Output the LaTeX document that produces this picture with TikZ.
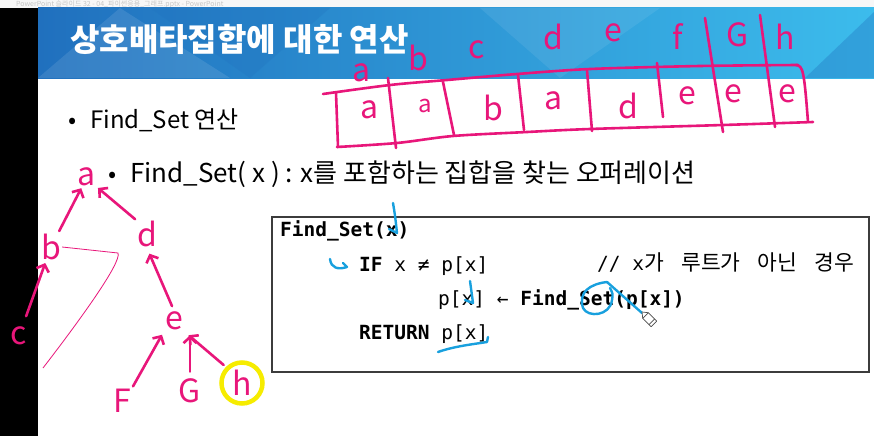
\documentclass[tikz,border=0pt]{standalone}
\usepackage{fontspec}
\setmainfont{Noto Sans CJK KR}
\newfontfamily\codefont{DejaVu Sans Mono}
\newfontfamily\cmtfont[WordSpace=3.6]{Noto Sans CJK KR}
\usetikzlibrary{arrows.meta, positioning, calc}
\definecolor{penpink}{RGB}{232,22,122}
\definecolor{penblue}{RGB}{24,160,222}
\definecolor{penyellow}{RGB}{246,236,0}
\definecolor{bardark}{RGB}{32,112,190}
\definecolor{barlight}{RGB}{60,188,236}
\definecolor{codeframe}{RGB}{60,60,60}
\tikzset{
  slidetitle/.style={anchor=base west, inner sep=0pt, text=white,
    font=\fontsize{32}{36}\selectfont\bfseries},
  bullet/.style={anchor=base west, inner sep=0pt,
    font=\fontsize{24}{28}\selectfont},
  codebox/.style={rectangle, draw=codeframe, line width=1.4pt,
    minimum width=597pt, minimum height=155pt, inner sep=0pt},
  codeline/.style={anchor=base west, inner sep=0pt,
    font=\codefont\fontsize{19.5}{22}\selectfont},
  hand/.style={text=penpink, inner sep=1pt, font=\fontsize{32}{32}\selectfont},
  penline/.style={draw=penpink, line width=2.6pt, line cap=round, line join=round},
  penarrow/.style={penline, -{Straight Barb[length=6pt, width=13pt]}},
  thinpen/.style={draw=penpink, line width=0.8pt},
  bluepen/.style={draw=penblue, line width=2.4pt, line cap=round, line join=round},
  hilite/.style={circle, draw=penyellow, line width=4.5pt, minimum size=41pt,
    inner sep=0pt, text=penpink, font=\fontsize{32}{32}\selectfont},
  wintext/.style={anchor=base west, inner sep=0pt, text=gray!45,
    font=\fontsize{7}{7}\selectfont},
}

\begin{document}
\begin{tikzpicture}[x=1pt, y=-1pt]
  \useasboundingbox (0,0) rectangle (874,436);

  %% window strip, black margin, title bar
  \fill[white] (0,0) rectangle (874,436);
  \fill[gray!6] (0,0) rectangle (874,8);
  \node[wintext] (wintitle) at (16,7) {PowerPoint 슬라이드 32 - 04\_파이썬응용\_그래프.pptx - PowerPoint};
  \fill[black] (0,8) rectangle (38,436);
  \shade[left color=bardark, right color=barlight] (38,8) rectangle (874,78);
  \fill[white, opacity=0.10] (38,78) -- (120,8) -- (230,78) -- cycle;
  \fill[bardark, opacity=0.25] (150,8) -- (330,8) -- (250,78) -- cycle;
  \fill[white, opacity=0.08] (480,8) -- (560,78) -- (660,8) -- cycle;
  \fill[bardark, opacity=0.35] (874,12) -- (874,78) -- (805,78) -- cycle;
  \node[slidetitle] (title) at (70,52) {상호배타집합에 대한 연산};

  %% bullets
  \node[bullet] (dot1) at (68,128) {•};
  \node[bullet] (op) at (90,128) {Find\_Set 연산};
  \node[bullet] (dot2) at (108,182) {•};
  \node[bullet, font=\fontsize{26}{30}\selectfont] (opdef) at (130,182)
    {Find\_Set( x ) : x를 포함하는 집합을 찾는 오퍼레이션};

  %% pseudo code
  \node[codebox] (code) at (570.5,294.5) {};
  \node[codeline] (head) at (280,236) {\bfseries Find\_Set(x)};
  \node[codeline] (cond) at (359,271) {\textbf{IF} x ≠ p[x]};
  \node[codeline] (cmt)  at (597,270)
    {// x{\cmtfont\fontsize{21.5}{22}\selectfont 가 루트가 아닌 경우}};
  \node[codeline] (upd)  at (438,305) {p[x] ← \textbf{Find\_Set(p[x])}};
  \node[codeline] (ret)  at (359,339) {\textbf{RETURN} p[x]};

  %% pink: parent array
  \draw[penline] plot[smooth] coordinates
    {(323,94) (390,85) (447,80) (517,74) (590,69) (700,66) (798,65)};
  \draw[penline] plot[smooth] coordinates
    {(337,147) (397,143) (453,136) (527,132) (590,129) (723,125) (813,122)};
  \draw[penline] (336,93) -- (338,147);
  \draw[penline] (388,78) -- (396,148);
  \draw[penline] (443,82) -- (454,135);
  \draw[penline] (518,75) -- (524,130);
  \draw[penline] (587,70) -- (592,131);
  \draw[penline] (657,63) -- (663,117);
  \draw[penline] (705,18) -- (723,132);
  \draw[penline] (760,15) -- (775,127);
  \draw[penline] (796,65) .. controls (803,66) and (804,70) .. (808,122);

  \node[hand] (ka) at (362,73) {a};
  \node[hand] (kb) at (418,58) {b};
  \node[hand] (kc) at (477,50) {c};
  \node[hand] (kd) at (553,37) {d};
  \node[hand] (ke) at (613,33) {e};
  \node[hand] (kf) at (678,37) {f};
  \node[hand] (kg) at (738,35) {G};
  \node[hand] (kh) at (785,37) {h};

  \node[hand] (pa) at (370,110) {a};
  \node[hand, font=\fontsize{24}{24}\selectfont] (pb) at (425,106) {a};
  \node[hand] (pc) at (493,108) {b};
  \node[hand] (pd) at (553,101) {a};
  \node[hand] (pe) at (628,106) {d};
  \node[hand] (pf) at (687,96) {e};
  \node[hand] (pg) at (733,94) {e};
  \node[hand] (ph) at (787,94) {e};

  %% pink: tree
  \node[hand] (ta) at (87,177) {a};
  \node[hand] (tb) at (51,247) {b};
  \node[hand] (td) at (147,234) {d};
  \node[hand] (tc) at (19,336) {c};
  \node[hand] (te) at (174,321) {e};
  \node[hand] (tf) at (122,401) {F};
  \node[hand] (tg) at (190,391) {G};
  \node[hilite] (th) at (242,383) {h};

  \draw[penarrow, shorten <=10pt, shorten >=2pt] (tc) -- (tb);
  \draw[penarrow, shorten <=2pt, shorten >=1pt] (tb) -- (ta);
  \draw[penarrow, shorten <=1pt, shorten >=1pt] (td.north west) -- (ta.south east);
  \draw[penarrow, shorten <=5pt, shorten >=6pt] (te.north) -- (td.south);
  \draw[penarrow, shorten <=2pt, shorten >=4pt] (tf.north east) -- (te.south west);
  \draw[penarrow, shorten <=6pt, shorten >=4pt] (tg.north) -- (tg.north |- te.south);
  \draw[penarrow, shorten <=3pt, shorten >=6pt] (th.north west) -- (te.south east);

  \coordinate (bend) at (118,253);
  \coordinate (tail) at (43,368);
  \draw[thinpen] (tb.east) -- (bend) .. controls (122,262) and (80,320) .. (tail);

  %% blue pen marks
  \draw[bluepen] (393,203) .. controls (395,215) .. (397,233) -- (389,229);
  \draw[bluepen] (330,259) .. controls (331,268) and (338,270) .. (347,267) -- (343,263);
  \draw[bluepen] (470,281) -- (473,303) -- (465,300);
  \draw[bluepen] (438,352) .. controls (455,346) and (475,344) .. (487,342) -- (488,337);
  \draw[bluepen] (607,282) .. controls (590,284) and (578,292) .. (583,308)
    .. controls (588,318) and (610,316) .. (612,300) .. controls (613,294) .. (610,288);
  \draw[bluepen] (607,282) -- (642,313);

  %% pen cursor
  \draw[black!70, fill=white, line width=0.7pt, line join=round]
    (642,312) -- (648.3,312.7) -- (656.7,321.1) -- (651.1,326.7) -- (642.7,318.3) -- cycle;
  \draw[black!70, line width=0.7pt] (648.3,312.7) -- (642.7,318.3);
  \draw[black!70, line width=0.7pt] (654.6,319) -- (649,324.6);
\end{tikzpicture}
\end{document}
